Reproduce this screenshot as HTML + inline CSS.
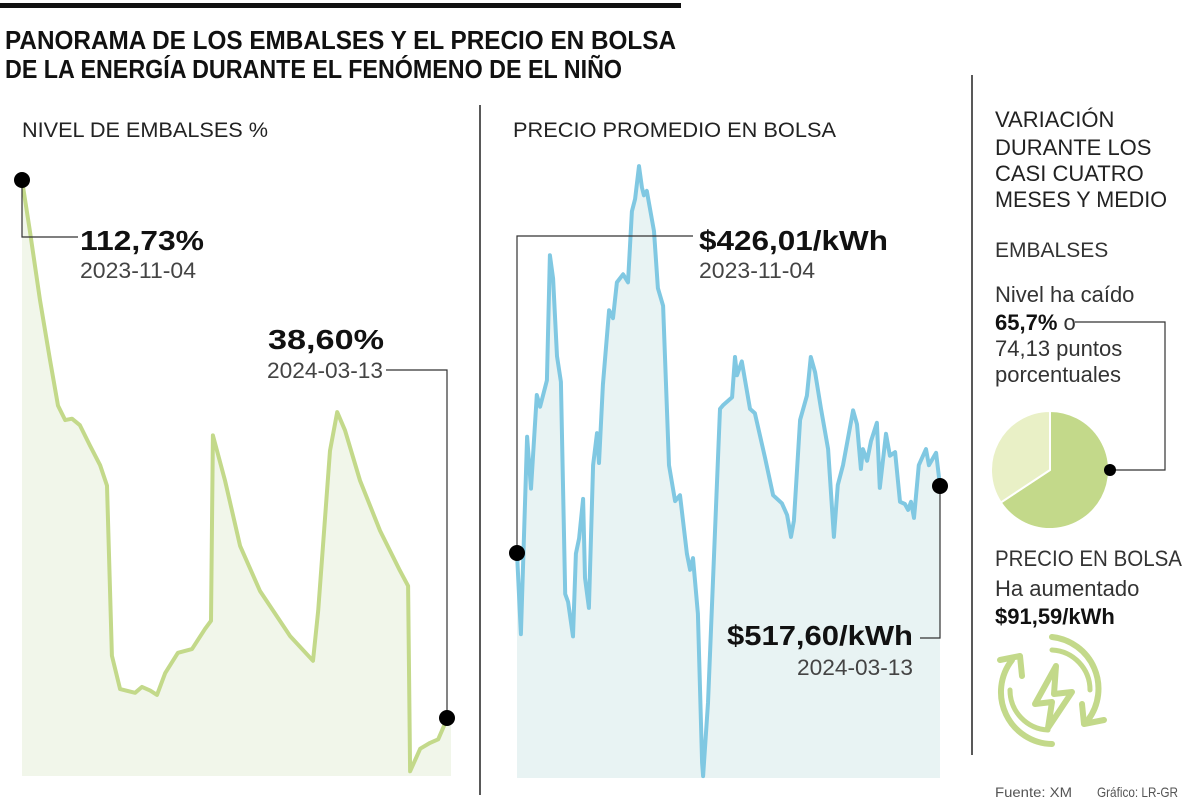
<!DOCTYPE html>
<html><head><meta charset="utf-8"><style>
html,body{margin:0;padding:0;background:#fff;}
svg{display:block;font-family:"Liberation Sans",sans-serif;}
</style></head><body>
<svg id="main" width="1200" height="803" viewBox="0 0 1200 803">
<rect x="0" y="3" width="681" height="5" fill="#111"/>
<text x="5" y="49" font-size="26" font-weight="bold" fill="#111" textLength="671" lengthAdjust="spacingAndGlyphs">PANORAMA DE LOS EMBALSES Y EL PRECIO EN BOLSA</text>
<text x="5" y="78" font-size="26" font-weight="bold" fill="#111" textLength="617" lengthAdjust="spacingAndGlyphs">DE LA ENERGÍA DURANTE EL FENÓMENO DE EL NIÑO</text>
<text x="22" y="137" font-size="21" fill="#222" textLength="246" lengthAdjust="spacingAndGlyphs">NIVEL DE EMBALSES %</text>
<text x="513" y="137" font-size="21" fill="#222" textLength="323" lengthAdjust="spacingAndGlyphs">PRECIO PROMEDIO EN BOLSA</text>
<line x1="480" y1="105" x2="480" y2="795" stroke="#222" stroke-width="1.5"/>
<line x1="972" y1="75" x2="972" y2="755" stroke="#222" stroke-width="1.5"/>
<g id="left-chart"></g>
<g id="mid-chart"></g>

<polyline points="22,180 22,237 78,237" fill="none" stroke="#333" stroke-width="1.2"/>
<text x="80" y="250" font-size="28" font-weight="bold" fill="#111" textLength="124" lengthAdjust="spacingAndGlyphs">112,73%</text>
<text x="80" y="278" font-size="22" fill="#444" textLength="116" lengthAdjust="spacingAndGlyphs">2023-11-04</text>
<text x="268" y="349" font-size="28" font-weight="bold" fill="#111" textLength="116" lengthAdjust="spacingAndGlyphs">38,60%</text>
<text x="267" y="378" font-size="22" fill="#444" textLength="116" lengthAdjust="spacingAndGlyphs">2024-03-13</text>
<polyline points="386,370 447,370 447,718" fill="none" stroke="#333" stroke-width="1.2"/>
<circle cx="22" cy="180" r="8" fill="#000"/>
<circle cx="447" cy="718" r="8" fill="#000"/>

<polyline points="693,236 517,236 517,553" fill="none" stroke="#333" stroke-width="1.2"/>
<text x="699" y="250" font-size="28" font-weight="bold" fill="#111" textLength="189" lengthAdjust="spacingAndGlyphs">$426,01/kWh</text>
<text x="699" y="278" font-size="22" fill="#444" textLength="116" lengthAdjust="spacingAndGlyphs">2023-11-04</text>
<text x="913" y="645" font-size="28" font-weight="bold" fill="#111" text-anchor="end" textLength="186" lengthAdjust="spacingAndGlyphs">$517,60/kWh</text>
<text x="913" y="675" font-size="22" fill="#444" text-anchor="end" textLength="116" lengthAdjust="spacingAndGlyphs">2024-03-13</text>
<polyline points="920,638 940,638 940,486" fill="none" stroke="#333" stroke-width="1.2"/>
<circle cx="517" cy="553" r="8" fill="#000"/>
<circle cx="940" cy="486" r="8" fill="#000"/>

<g font-size="22" fill="#222">
<text x="995" y="127">VARIACIÓN</text>
<text x="995" y="155">DURANTE LOS</text>
<text x="995" y="181">CASI CUATRO</text>
<text x="995" y="207" textLength="172" lengthAdjust="spacingAndGlyphs">MESES Y MEDIO</text>
</g>
<text x="995" y="257" font-size="21" fill="#333">EMBALSES</text>
<g font-size="22" fill="#333">
<text x="995" y="302">Nivel ha caído</text>
<text x="995" y="330"><tspan font-weight="bold" fill="#111">65,7%</tspan> o</text>
<text x="995" y="356">74,13 puntos</text>
<text x="995" y="382">porcentuales</text>
</g>
<g id="pie"></g>
<polyline points="1075,322 1165,322 1165,470 1110,470" fill="none" stroke="#333" stroke-width="1.2"/>
<circle cx="1110" cy="470" r="6" fill="#000"/>
<text x="995" y="566" font-size="22" fill="#333" textLength="187" lengthAdjust="spacingAndGlyphs">PRECIO EN BOLSA</text>
<text x="995" y="596" font-size="22" fill="#333">Ha aumentado</text>
<text x="995" y="624" font-size="22" font-weight="bold" fill="#111">$91,59/kWh</text>
<g fill="none" stroke="#c3d98a" stroke-width="6" stroke-linejoin="round" stroke-linecap="round">
<path d="M1012,660 A52,52 0 0 0 1052,744"/>
<path d="M1088,720 A52,52 0 0 0 1052,637"/>
<path d="M1052,650 A40,40 0 0 1 1090,690" stroke-width="5"/>
<path d="M1048,730 A40,40 0 0 1 1010,690" stroke-width="5"/>
<polyline points="1000,660 1020,656 1022,676"/>
<polyline points="1104,720 1084,724 1082,704"/>
<polygon points="1056,666 1035,704 1052,702 1048,728 1072,692 1054,694"/>
</g>
<text x="995" y="797" font-size="14" fill="#555" textLength="77" lengthAdjust="spacingAndGlyphs">Fuente: XM</text>
<text x="1097" y="797" font-size="14" fill="#555" textLength="81" lengthAdjust="spacingAndGlyphs">Gráfico: LR-GR</text>
</svg>
<script>
// Embalses: day index since 2023-11-04, level %
const embDays = [0,2.4,5.5,8.6,11.0,13.2,15.3,17.7,20.8,23.9,26.0,27.5,30.0,34.6,36.7,39.2,41.3,43.8,47.7,52.0,56.0,57.8,58.4,62.1,66.7,72.8,82.0,89.0,90.6,94.2,96.4,98.8,103.4,109.5,115.6,118.1,118.7,121.8,124.8,127.3,130];
const embValues = [112.73,105.8,96.2,87.9,81.7,79.7,79.9,79.0,76.2,73.5,70.7,47.3,42.7,42.2,43.0,42.5,41.9,44.9,47.7,48.2,51.0,52.1,77.6,71.4,62.4,56.2,50.0,46.6,53.5,75.5,80.8,78.3,71.4,64.5,59.0,56.9,31.4,34.5,35.3,35.8,38.60];
// Precio: day index, $/kWh
const priceDays = [0,1.2,3.1,4.3,6.1,7.1,9.2,10.1,11.1,12.3,13.5,14.8,15.7,17.2,18.1,19.1,20.3,20.9,22.1,23.4,24.6,25.2,26.4,28.3,29.5,30.7,32.6,34.1,35.3,36.3,37.5,38.4,39.0,39.9,42.1,43.3,44.9,46.7,48.6,50.1,52.2,53.2,54.1,55.6,56.9,57.2,58.7,62.4,63.3,66.1,67.0,67.6,69.1,71.6,73.1,76.2,78.7,81.4,83.0,84.2,85.1,87.0,89.1,90.3,91.6,93.4,95.6,97.4,98.6,100.2,103.3,104.5,105.7,106.3,107.6,108.8,110.6,111.5,113.4,114.6,116.2,117.7,119.2,120.2,121.1,122.0,123.5,125.7,126.6,128.8,130];
const priceValues = [426.01,315,585,514,642,626,662,833,801,695,660,370,359,312,425,446,500,392,351,546,590,549,656,758,747,796,807,796,893,910,955,926,915,921,866,788,764,546,497,505,425,403,419,343,139,121,221,623,628,639,694,669,688,623,617,557,505,494,478,448,470,608,641,694,673,624,568,448,519,546,621,602,541,568,552,579,604,515,589,559,564,496,493,485,496,474,546,568,546,563,517.60];
const pieShare = [65.7, 34.3];

const NS='http://www.w3.org/2000/svg';
function drawArea(g, days, vals, x0, x1, xEnd, vMin, yBase, vRef, yRef, lineColor, fillColor, dataName){
  const sx = d => x0 + d/130*(x1-x0);
  const sy = v => yBase - (v - vMin)/(vRef - vMin)*(yBase - yRef);
  let pts = days.map((d,i)=>sx(d).toFixed(1)+','+sy(vals[i]).toFixed(1));
  const lastY = sy(vals[vals.length-1]).toFixed(1);
  const area = document.createElementNS(NS,'polygon');
  area.setAttribute('points', sx(0)+','+yBase+' '+pts.join(' ')+' '+xEnd+','+lastY+' '+xEnd+','+yBase);
  area.setAttribute('fill', fillColor);
  
  
  g.appendChild(area);
  const line = document.createElementNS(NS,'polyline');
  line.setAttribute('points', pts.join(' '));
  line.setAttribute('fill','none');
  line.setAttribute('stroke', lineColor);
  line.setAttribute('stroke-width','4');
  line.setAttribute('stroke-linejoin','round');
  
  
  g.appendChild(line);
}
drawArea(document.getElementById('left-chart'), embDays, embValues, 22, 447, 451, 30.75, 776, 112.73, 180, '#c3d98a', '#f1f6ea', 'embalses');
drawArea(document.getElementById('mid-chart'), priceDays, priceValues, 517, 940, 940, 118.4, 778, 426.01, 553, '#80c8e2', '#e8f3f3', 'precio');

(function(){
  const g=document.getElementById('pie'); const cx=1050, cy=470, r=59;
  const colors=['#c3d98a','#e9f0c6']; let a=0;
  pieShare.forEach((p,i)=>{
    const a1=a+p/100*2*Math.PI;
    const x0=cx+r*Math.sin(a), y0=cy-r*Math.cos(a), x1=cx+r*Math.sin(a1), y1=cy-r*Math.cos(a1);
    const path=document.createElementNS(NS,'path');
    path.setAttribute('d',`M${cx},${cy} L${x0},${y0} A${r},${r} 0 ${p>50?1:0} 1 ${x1},${y1} Z`);
    path.setAttribute('fill',colors[i]); path.setAttribute('stroke','#fff'); path.setAttribute('stroke-width','2');
    
    
    g.appendChild(path); a=a1;
  });
})();
</script>
</body></html>
